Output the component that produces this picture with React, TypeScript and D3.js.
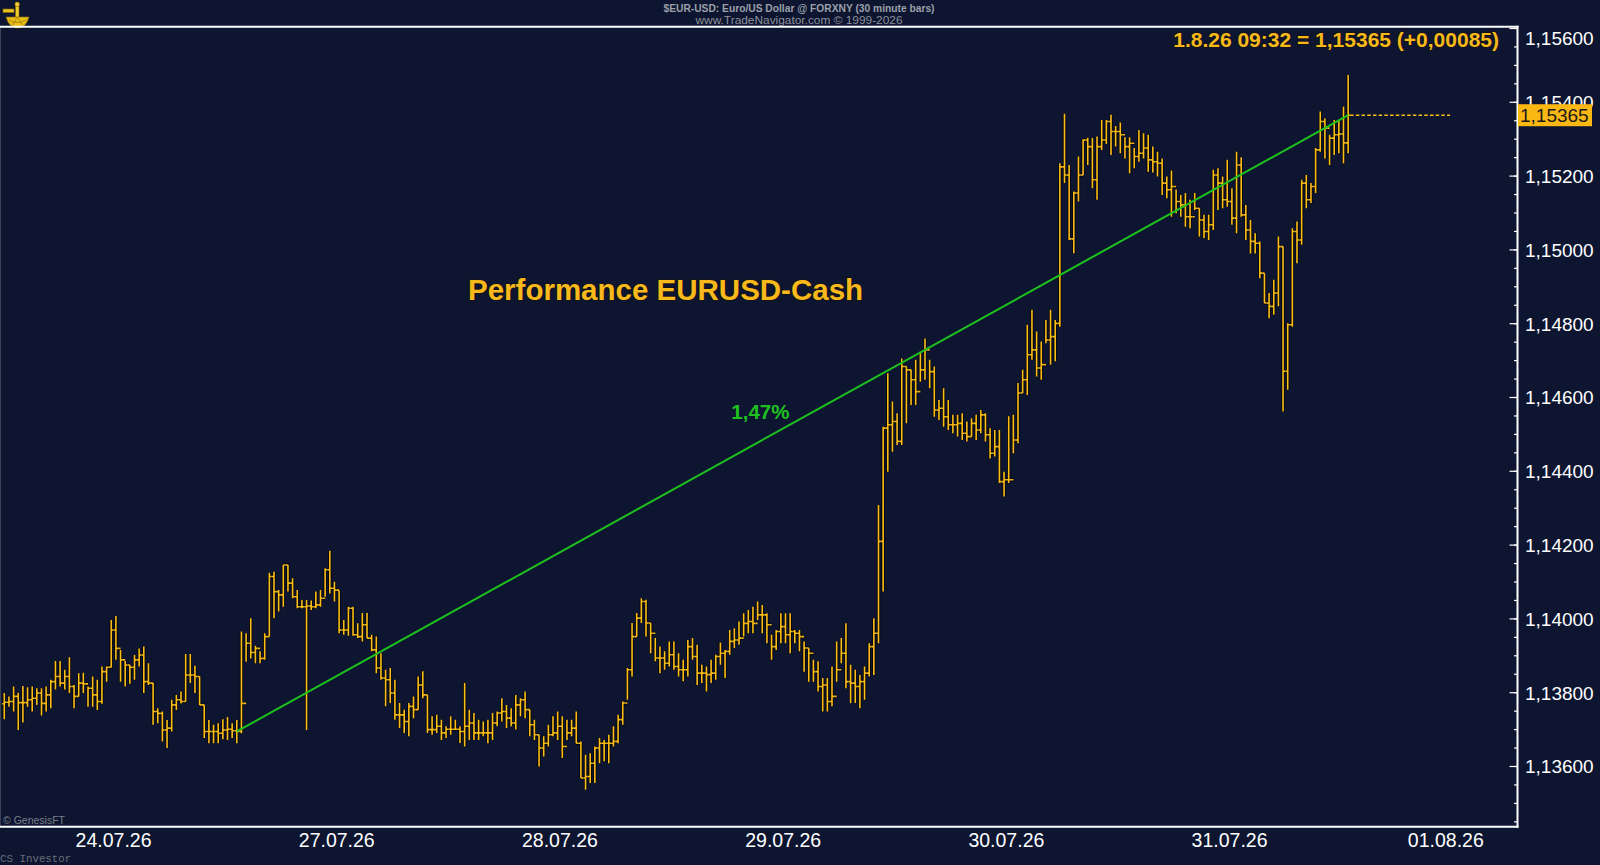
import React from 'react';
import * as d3 from 'd3';

// ---------- DATA (30 minute bars, EURUSD) ----------
const FIRST_OPEN = 1.1377;

const highs: number[] = [
  1.13799, 1.13790, 1.13817, 1.13800, 1.13818, 1.13815, 1.13817, 1.13812, 1.13812, 1.13817,
  1.13835, 1.13886, 1.13886, 1.13862, 1.13896, 1.13821, 1.13853, 1.13854, 1.13817, 1.13844,
  1.13835, 1.13871, 1.13871, 1.13997, 1.14008, 1.13916, 1.13886, 1.13875, 1.13902, 1.13920,
  1.13925, 1.13880, 1.13826, 1.13758, 1.13749, 1.13726, 1.13781, 1.13794, 1.13803, 1.13905,
  1.13905, 1.13873, 1.13844, 1.13767, 1.13726, 1.13713, 1.13717, 1.13728, 1.13734, 1.13717,
  1.13726, 1.13966, 1.13961, 1.14002, 1.13927, 1.13912, 1.13961, 1.14125, 1.14128, 1.14078,
  1.14146, 1.14146, 1.14110, 1.14078, 1.14051, 1.14051, 1.14050, 1.14074, 1.14078, 1.14137,
  1.14185, 1.14101, 1.14077, 1.13997, 1.14033, 1.14033, 1.13988,
  1.14016, 1.14016, 1.13957, 1.13952, 1.13907, 1.13862, 1.13867, 1.13835, 1.13772, 1.13754,
  1.13772, 1.13790, 1.13844, 1.13858, 1.13794, 1.13736, 1.13740, 1.13727, 1.13709, 1.13736,
  1.13727, 1.13709, 1.13826, 1.13754, 1.13745, 1.13727, 1.13722, 1.13727, 1.13745, 1.13749,
  1.13785, 1.13767, 1.13758, 1.13794, 1.13785, 1.13803, 1.13754, 1.13727, 1.13686, 1.13682,
  1.13713, 1.13736, 1.13749, 1.13736, 1.13727, 1.13727, 1.13749, 1.13668, 1.13632, 1.13636,
  1.13654, 1.13677, 1.13672, 1.13686, 1.13709, 1.13740, 1.13776, 1.13867, 1.13989, 1.14016,
  1.14056, 1.14052, 1.13989, 1.13948, 1.13925, 1.13912, 1.13939, 1.13939, 1.13907, 1.13889,
  1.13943, 1.13948, 1.13930, 1.13876, 1.13871, 1.13889, 1.13903,
  1.13936, 1.13916, 1.13970, 1.13975, 1.13993, 1.14015, 1.14024, 1.14033, 1.14047, 1.14038,
  1.14015, 1.13957, 1.13970, 1.14015, 1.14015, 1.14015, 1.13970, 1.13970, 1.13939, 1.13921,
  1.13889, 1.13885, 1.13840, 1.13840, 1.13871, 1.13939, 1.13948, 1.13988, 1.13876, 1.13862,
  1.13848, 1.13871, 1.13934, 1.14002, 1.14309, 1.14521, 1.14666, 1.14589, 1.14557, 1.14706,
  1.14684, 1.14675, 1.14702, 1.14724, 1.14760, 1.14702, 1.14684, 1.14593, 1.14625, 1.14593,
  1.14553, 1.14553, 1.14557, 1.14535, 1.14544, 1.14553, 1.14566, 1.14557, 1.14517, 1.14512,
  1.14512, 1.14399, 1.14549, 1.14553, 1.14639, 1.14675, 1.14797, 1.14838, 1.14779, 1.14752,
  1.14810, 1.14838, 1.14810, 1.15235, 1.15369, 1.15230, 1.15158, 1.15253, 1.15300, 1.15304,
  1.15303, 1.15307, 1.15352, 1.15352, 1.15366, 1.15336, 1.15345, 1.15305, 1.15305, 1.15276,
  1.15325, 1.15316, 1.15312, 1.15280, 1.15266, 1.15248, 1.15199, 1.15215, 1.15164, 1.15149,
  1.15154, 1.15136, 1.15154, 1.15113, 1.15095, 1.15095, 1.15217, 1.15221, 1.15199, 1.15244,
  1.15167, 1.15266, 1.15251, 1.15122, 1.15081, 1.15045, 1.15023, 1.14937, 1.14883, 1.14919,
  1.15036, 1.15009, 1.14801, 1.15059, 1.15077, 1.15190, 1.15203, 1.15181, 1.15276, 1.15375,
  1.15357, 1.15312, 1.15352, 1.15352, 1.15388, 1.15474,
];

const lows: number[] = [
  1.13728, 1.13762, 1.13749, 1.13699, 1.13719, 1.13762, 1.13749, 1.13767, 1.13738, 1.13749,
  1.13758, 1.13809, 1.13817, 1.13809, 1.13799, 1.13758, 1.13790, 1.13799, 1.13762, 1.13762,
  1.13753, 1.13770, 1.13830, 1.13869, 1.13889, 1.13830, 1.13817, 1.13824, 1.13835, 1.13871,
  1.13799, 1.13821, 1.13713, 1.13717, 1.13668, 1.13650, 1.13695, 1.13753, 1.13771, 1.13776,
  1.13826, 1.13799, 1.13767, 1.13677, 1.13663, 1.13663, 1.13663, 1.13674, 1.13672, 1.13677,
  1.13663, 1.13690, 1.13884, 1.13893, 1.13880, 1.13880, 1.13889, 1.13952, 1.14002, 1.14020,
  1.14033, 1.14074, 1.14056, 1.14029, 1.14029, 1.13699, 1.14024, 1.14029, 1.14033, 1.14060,
  1.14069, 1.14047, 1.13961, 1.13957, 1.13954, 1.13954, 1.13948,
  1.13939, 1.13948, 1.13912, 1.13853, 1.13835, 1.13763, 1.13772, 1.13727, 1.13704, 1.13691,
  1.13682, 1.13731, 1.13754, 1.13785, 1.13691, 1.13686, 1.13691, 1.13672, 1.13677, 1.13686,
  1.13700, 1.13664, 1.13654, 1.13672, 1.13672, 1.13672, 1.13682, 1.13663, 1.13672, 1.13709,
  1.13722, 1.13704, 1.13709, 1.13700, 1.13736, 1.13731, 1.13682, 1.13672, 1.13600, 1.13627,
  1.13654, 1.13682, 1.13672, 1.13623, 1.13672, 1.13682, 1.13663, 1.13569, 1.13537, 1.13555,
  1.13555, 1.13609, 1.13614, 1.13609, 1.13654, 1.13663, 1.13713, 1.13781, 1.13844, 1.13952,
  1.13989, 1.13952, 1.13907, 1.13885, 1.13853, 1.13862, 1.13871, 1.13862, 1.13844, 1.13831,
  1.13844, 1.13889, 1.13821, 1.13826, 1.13803, 1.13826, 1.13835,
  1.13876, 1.13840, 1.13903, 1.13921, 1.13930, 1.13952, 1.13961, 1.13961, 1.13997, 1.13961,
  1.13934, 1.13889, 1.13916, 1.13934, 1.13934, 1.13907, 1.13934, 1.13912, 1.13857, 1.13830,
  1.13830, 1.13803, 1.13749, 1.13749, 1.13763, 1.13830, 1.13880, 1.13812, 1.13772, 1.13772,
  1.13758, 1.13781, 1.13844, 1.13848, 1.13934, 1.14074, 1.14399, 1.14453, 1.14471, 1.14471,
  1.14530, 1.14580, 1.14580, 1.14643, 1.14648, 1.14625, 1.14548, 1.14539, 1.14521, 1.14512,
  1.14503, 1.14494, 1.14485, 1.14481, 1.14494, 1.14485, 1.14503, 1.14481, 1.14435, 1.14440,
  1.14368, 1.14332, 1.14368, 1.14449, 1.14476, 1.14612, 1.14607, 1.14702, 1.14657, 1.14648,
  1.14747, 1.14689, 1.14698, 1.14792, 1.15181, 1.15027, 1.14991, 1.15131, 1.15203, 1.15230,
  1.15167, 1.15136, 1.15271, 1.15287, 1.15257, 1.15280, 1.15262, 1.15248, 1.15208, 1.15221,
  1.15239, 1.15248, 1.15212, 1.15210, 1.15199, 1.15149, 1.15140, 1.15090, 1.15099, 1.15090,
  1.15063, 1.15059, 1.15108, 1.15036, 1.15032, 1.15027, 1.15054, 1.15108, 1.15113, 1.15117,
  1.15068, 1.15045, 1.15090, 1.15027, 1.14990, 1.14990, 1.14923, 1.14856, 1.14815, 1.14824,
  1.14847, 1.14562, 1.14621, 1.14792, 1.14964, 1.15014, 1.15113, 1.15127, 1.15154, 1.15266,
  1.15248, 1.15230, 1.15257, 1.15262, 1.15235, 1.15262,
];

const closes: number[] = [
  1.13774, 1.13776, 1.13790, 1.13773, 1.13773, 1.13781, 1.13785, 1.13799, 1.13771, 1.13794,
  1.13830, 1.13844, 1.13826, 1.13844, 1.13817, 1.13790, 1.13826, 1.13824, 1.13812, 1.13794,
  1.13776, 1.13857, 1.13869, 1.13970, 1.13920, 1.13889, 1.13875, 1.13869, 1.13889, 1.13902,
  1.13830, 1.13826, 1.13749, 1.13744, 1.13699, 1.13704, 1.13767, 1.13781, 1.13776, 1.13848,
  1.13848, 1.13844, 1.13767, 1.13695, 1.13695, 1.13695, 1.13690, 1.13699, 1.13701, 1.13697,
  1.13695, 1.13771, 1.13934, 1.13909, 1.13920, 1.13893, 1.13952, 1.14115, 1.14074, 1.14065,
  1.14146, 1.14097, 1.14060, 1.14033, 1.14033, 1.14035, 1.14033, 1.14038, 1.14056, 1.14133,
  1.14083, 1.14078, 1.13970, 1.13970, 1.14029, 1.13957, 1.13952,
  1.13984, 1.13948, 1.13916, 1.13867, 1.13840, 1.13835, 1.13799, 1.13740, 1.13740, 1.13722,
  1.13763, 1.13754, 1.13821, 1.13794, 1.13700, 1.13700, 1.13709, 1.13691, 1.13701, 1.13701,
  1.13701, 1.13695, 1.13709, 1.13718, 1.13691, 1.13691, 1.13691, 1.13691, 1.13718, 1.13745,
  1.13749, 1.13731, 1.13718, 1.13767, 1.13781, 1.13754, 1.13713, 1.13686, 1.13650, 1.13663,
  1.13686, 1.13691, 1.13709, 1.13654, 1.13691, 1.13704, 1.13663, 1.13569, 1.13573, 1.13609,
  1.13650, 1.13663, 1.13663, 1.13663, 1.13668, 1.13727, 1.13772, 1.13862, 1.13952, 1.14002,
  1.14047, 1.13989, 1.13961, 1.13894, 1.13894, 1.13880, 1.13903, 1.13871, 1.13862, 1.13862,
  1.13925, 1.13898, 1.13853, 1.13853, 1.13849, 1.13853, 1.13898,
  1.13907, 1.13912, 1.13939, 1.13943, 1.13948, 1.13988, 1.13993, 1.13988, 1.14011, 1.14011,
  1.13984, 1.13925, 1.13966, 1.13979, 1.13957, 1.13966, 1.13961, 1.13952, 1.13921, 1.13907,
  1.13857, 1.13817, 1.13821, 1.13776, 1.13790, 1.13862, 1.13907, 1.13830, 1.13826, 1.13817,
  1.13830, 1.13853, 1.13925, 1.13961, 1.14210, 1.14517, 1.14526, 1.14535, 1.14481, 1.14684,
  1.14675, 1.14648, 1.14616, 1.14675, 1.14729, 1.14670, 1.14566, 1.14571, 1.14548, 1.14526,
  1.14526, 1.14530, 1.14503, 1.14494, 1.14530, 1.14512, 1.14553, 1.14499, 1.14449, 1.14467,
  1.14372, 1.14377, 1.14377, 1.14485, 1.14612, 1.14648, 1.14716, 1.14729, 1.14680, 1.14689,
  1.14756, 1.14765, 1.14801, 1.15225, 1.15203, 1.15030, 1.15154, 1.15203, 1.15298, 1.15280,
  1.15190, 1.15280, 1.15298, 1.15348, 1.15321, 1.15321, 1.15312, 1.15280, 1.15289, 1.15253,
  1.15262, 1.15276, 1.15244, 1.15239, 1.15235, 1.15181, 1.15163, 1.15172, 1.15131, 1.15122,
  1.15090, 1.15090, 1.15113, 1.15081, 1.15050, 1.15068, 1.15203, 1.15181, 1.15136, 1.15131,
  1.15086, 1.15230, 1.15095, 1.15054, 1.15023, 1.15018, 1.14937, 1.14856, 1.14847, 1.14883,
  1.15009, 1.14671, 1.14797, 1.15050, 1.15027, 1.15181, 1.15136, 1.15172, 1.15271, 1.15348,
  1.15330, 1.15303, 1.15312, 1.15314, 1.15290, 1.15365,
];

const priceTicks = [1.136, 1.138, 1.14, 1.142, 1.144, 1.146, 1.148, 1.15, 1.152, 1.154, 1.156];
const dateLabels = ['24.07.26', '27.07.26', '28.07.26', '29.07.26', '30.07.26', '31.07.26', '01.08.26'];
const dateTickIndex = [23.5, 71.5, 119.5, 167.5, 215.5, 263.5, 310];

const PERF_START = 50;
const PERF_LABEL = '1,47%';
const TITLE = 'Performance EURUSD-Cash';
const LAST_INFO = '1.8.26 09:32 = 1,15365 (+0,00085)';
const HEADER1 = '$EUR-USD:  Euro/US Dollar @ FORXNY  (30 minute bars)';
const HEADER2 = 'www.TradeNavigator.com \u00a9 1999-2026';

// ---------- LAYOUT ----------
const W = 1600;
const H = 865;
const PLOT_TOP = 26.7;
const PLOT_BOTTOM = 826.7;
const PLOT_RIGHT = 1517.5;
const BG = '#0d1530';
const GOLD = '#fdbd17';
const TEXT_GOLD = '#f8b91c';
const GREEN = '#1ec21e';
const FONT = '"Liberation Sans", Arial, Helvetica, sans-serif';

const fmt = (v: number) => d3.format('.5f')(v).replace('.', ',');

export default function App() {
  const n = closes.length;
  const last = n - 1;
  const opens = closes.map((_, i) => (i === 0 ? FIRST_OPEN : closes[i - 1]));

  const x = d3.scaleLinear().domain([0, 289]).range([4.3, 1348.15]);
  const y = d3.scaleLinear().domain([1.136, 1.156]).range([766.5, 28.5]);

  const barPath = d3.range(n)
    .map((i) => {
      const xi = x(i);
      return `M${xi},${y(highs[i])}V${y(lows[i])}M${xi - 2.2},${y(opens[i])}H${xi}M${xi},${y(closes[i])}H${xi + 2.2}`;
    })
    .join('');

  const minorTicks = d3.range(1.1345, 1.15605, 0.0005);

  const perfX0 = x(PERF_START);
  const perfY0 = y(closes[PERF_START]);
  const perfX1 = x(last);
  const perfY1 = y(closes[last]);
  const midIdx = (PERF_START + last) / 2;
  const midVal = closes[PERF_START] + (closes[last] - closes[PERF_START]) * ((midIdx - PERF_START) / (last - PERF_START));

  const lastY = y(closes[last]);

  return (
    <svg
      width={W}
      height={H}
      style={{ position: 'absolute', left: 0, top: 0, background: BG, display: 'block' }}
      xmlns="http://www.w3.org/2000/svg"
    >
      <rect x={0} y={0} width={W} height={H} fill={BG} />

      {/* header */}
      <text x={799} y={11.5} textAnchor="middle" fontFamily={'"Liberation Sans Narrow", "Arial Narrow", ' + FONT}
        fontSize={11.5} fontWeight="bold" fill="#9ba0aa" textLength={271} lengthAdjust="spacingAndGlyphs">{HEADER1}</text>
      <text x={799} y={24} textAnchor="middle" fontFamily={'"Liberation Sans Narrow", "Arial Narrow", ' + FONT}
        fontSize={11.5} fill="#8c909a" textLength={207} lengthAdjust="spacingAndGlyphs">{HEADER2}</text>

      {/* logo */}
      <g transform="translate(3,2)">
        <rect x={0} y={7} width={11} height={3.5} fill="#e9c21f" stroke="#8a6a08" strokeWidth={0.6} />
        <rect x={12.5} y={1} width={3.5} height={17} fill="#f2cc2a" stroke="#8a6a08" strokeWidth={0.6} />
        <circle cx={14.2} cy={2.2} r={2.2} fill="#f5d23a" stroke="#8a6a08" strokeWidth={0.6} />
        <path d="M3,15 L26,15 Q23,26 14.5,26 Q6,26 3,15 Z" fill="#e8bd18" stroke="#8a6a08" strokeWidth={0.7} />
        <path d="M6,18 Q14.5,23 23,18" fill="none" stroke="#a07c0c" strokeWidth={0.8} />
        <path d="M14.2,15 L9,24 M14.2,15 L20,24" stroke="#a07c0c" strokeWidth={0.8} />
      </g>

      {/* frame */}
      <line x1={0.5} y1={PLOT_TOP} x2={0.5} y2={PLOT_BOTTOM} stroke="#3b4256" strokeWidth={1} />
      <line x1={0} y1={PLOT_TOP} x2={PLOT_RIGHT + 1} y2={PLOT_TOP} stroke="#ffffff" strokeWidth={2} />
      <line x1={0} y1={PLOT_BOTTOM} x2={PLOT_RIGHT + 1} y2={PLOT_BOTTOM} stroke="#ffffff" strokeWidth={2} />
      <line x1={PLOT_RIGHT} y1={PLOT_TOP - 1} x2={PLOT_RIGHT} y2={PLOT_BOTTOM + 1} stroke="#ffffff" strokeWidth={2} />

      {/* y ticks */}
      {minorTicks.map((t, i) => (
        <line key={'mt' + i} x1={PLOT_RIGHT - 3.5} x2={PLOT_RIGHT} y1={y(t)} y2={y(t)} stroke="#ffffff" strokeWidth={1.2} />
      ))}
      {priceTicks.map((t) => (
        <line key={'Mt' + t} x1={PLOT_RIGHT - 8} x2={PLOT_RIGHT} y1={y(t)} y2={y(t)} stroke="#ffffff" strokeWidth={1.2} />
      ))}
      {priceTicks.map((t) => {
        const cy = Math.max(y(t), PLOT_TOP + 11);
        return (
          <text key={'yl' + t} x={1525} y={cy + 6.8} fontFamily={FONT} fontSize={19} fill="#ffffff">{fmt(t)}</text>
        );
      })}

      {/* date labels */}
      {dateLabels.map((d, i) => (
        <text key={d} x={x(dateTickIndex[i])} y={846.5} textAnchor="middle" fontFamily={FONT} fontSize={19.5} fill="#ffffff">{d}</text>
      ))}

      {/* bars */}
      <path d={barPath} fill="none" stroke="#000000" strokeWidth={3.4} strokeOpacity={0.75} />
      <path d={barPath} fill="none" stroke={GOLD} strokeWidth={1.6} />

      {/* last price dashed line */}
      <line x1={x(last) + 2} x2={1450} y1={lastY} y2={lastY} stroke={GOLD} strokeWidth={1.6} strokeDasharray="3.5,2.2" />

      {/* performance line */}
      <line x1={perfX0} y1={perfY0} x2={perfX1} y2={perfY1} stroke={GREEN} strokeWidth={2} />
      <text x={x(midIdx) - 3} y={y(midVal) - 4} textAnchor="end" fontFamily={FONT} fontSize={20.5} fontWeight="bold" fill={GREEN}>{PERF_LABEL}</text>

      {/* title */}
      <text x={468} y={299.5} fontFamily={FONT} fontSize={29.5} fontWeight="bold" fill={TEXT_GOLD}
        stroke="#1a1200" strokeWidth={1} paintOrder="stroke">{TITLE}</text>

      {/* last info */}
      <text x={1499} y={46.5} textAnchor="end" fontFamily={FONT} fontSize={21} fontWeight="bold" fill={TEXT_GOLD}
        stroke="#1a1200" strokeWidth={0.8} paintOrder="stroke">{LAST_INFO}</text>

      {/* price box */}
      <rect x={PLOT_RIGHT + 0.5} y={lastY - 11} width={74} height={22} fill="#fbb712" />
      <text x={1520} y={lastY + 6.8} fontFamily={FONT} fontSize={19} fill="#1a1a1a">{fmt(closes[last])}</text>

      {/* footers */}
      <text x={3} y={824} fontFamily={FONT} fontSize={10.5} fill="#7a7e88">{'\u00a9 GenesisFT'}</text>
      <text x={0} y={862} fontFamily={'"Liberation Mono", "DejaVu Sans Mono", monospace'} fontSize={10.8} fill="#6a6e78">CS Investor</text>
    </svg>
  );
}
